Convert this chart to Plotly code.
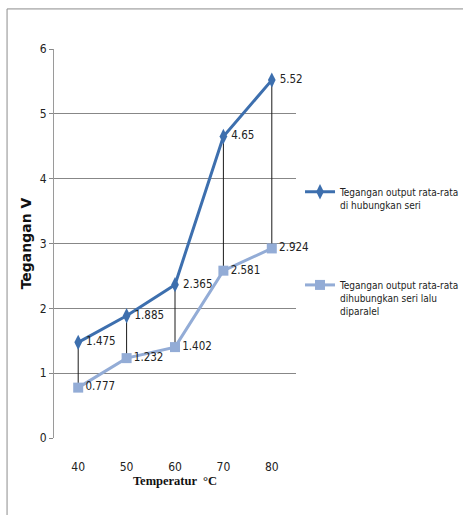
import plotly.graph_objects as go

# Temperature categories (°C) and average output voltages (V)
temperatur = ["40", "50", "60", "70", "80"]
seri = [1.475, 1.885, 2.365, 4.65, 5.52]
seri_paralel = [0.777, 1.232, 1.402, 2.581, 2.924]
nama_seri = "Tegangan output rata-rata<br>di hubungkan seri"
nama_paralel = "Tegangan output rata-rata<br>dihubungkan seri lalu<br>diparalel"
y_ticks = [0, 1, 2, 3, 4, 5, 6]

DARK = "#3d6fae"
LIGHT = "#93acd6"
NARROW = "DejaVu Sans Condensed, Liberation Sans Narrow"
TXT = "#222222"

fig = go.Figure()

# high-low connectors between the two series at each temperature
hx, hy = [], []
for t, a, b in zip(temperatur, seri, seri_paralel):
    hx += [t, t, None]
    hy += [a, b, None]
fig.add_trace(go.Scatter(x=hx, y=hy, mode="lines", line=dict(color="#1a1a1a", width=1),
                         showlegend=False, hoverinfo="skip"))

fig.add_trace(go.Scatter(
    x=temperatur, y=seri, name=nama_seri, legend="legend",
    mode="lines+markers+text", cliponaxis=False,
    line=dict(color=DARK, width=3),
    marker=dict(symbol="diamond-tall", size=11, color=DARK),
    text=[f"{v:g}" for v in seri], textposition="middle right",
    textfont=dict(family=NARROW, size=11.5, color=TXT),
))
fig.add_trace(go.Scatter(
    x=temperatur, y=seri_paralel, name=nama_paralel, legend="legend2",
    mode="lines+markers+text", cliponaxis=False,
    line=dict(color=LIGHT, width=3),
    marker=dict(symbol="square", size=10, color=LIGHT),
    text=[f"{v:g}" for v in seri_paralel], textposition="middle right",
    textfont=dict(family=NARROW, size=11.5, color=TXT),
))

legend_style = dict(xref="container", yref="container", x=0.648, xanchor="left",
                    yanchor="top", valign="top", itemwidth=30,
                    font=dict(family=NARROW, size=10, color=TXT))

fig.update_layout(
    width=463, height=515,
    margin=dict(l=54, r=167, t=49, b=77, autoexpand=False),
    paper_bgcolor="white", plot_bgcolor="white",
    font=dict(family=NARROW, size=12, color=TXT),
    showlegend=True,
    legend=dict(y=0.653, **legend_style),
    legend2=dict(y=0.472, **legend_style),
    shapes=[dict(type="rect", xref="paper", yref="paper",
                 x0=-0.194, x1=2.5, y0=-0.4, y1=1.103,
                 line=dict(color="#8c8c8c", width=1), layer="below")],
)

fig.update_xaxes(
    type="category", range=[-0.5, 4.5], automargin=False,
    showgrid=False, showline=False, zeroline=False,
    ticks="", ticklabelstandoff=20,
    tickfont=dict(family=NARROW, size=12, color=TXT),
    title=dict(text="Temperatur  °C", standoff=0,
               font=dict(family="Liberation Serif, Times New Roman", size=12.5,
                         color="#111111", weight="bold")),
)
fig.update_yaxes(
    range=[0, 6], tickvals=y_ticks, automargin=False,
    showgrid=True, gridcolor="#878787", gridwidth=1,
    showline=True, linecolor="#9a9a9a", linewidth=1,
    zeroline=False, ticks="outside", ticklen=4, tickcolor="#878787",
    tickfont=dict(family=NARROW, size=12, color=TXT),
    title=dict(text="Tegangan V", standoff=4,
               font=dict(family="DejaVu Sans", size=14, color="#111111", weight="bold")),
)

fig.write_html("out.html")
